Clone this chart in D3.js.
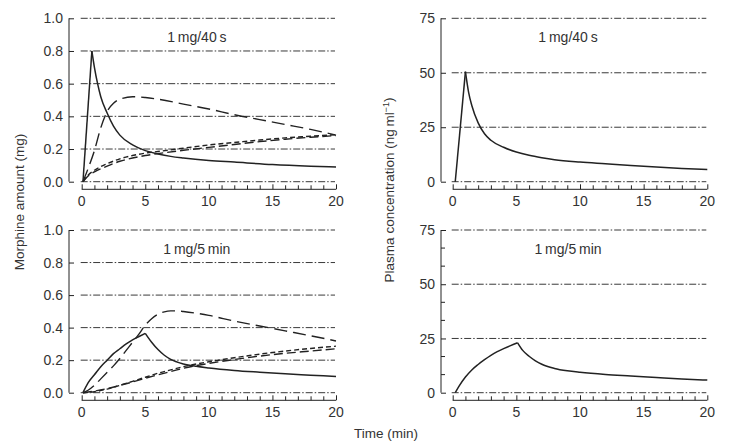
<!DOCTYPE html>
<html>
<head>
<meta charset="utf-8">
<script src="https://cdn.jsdelivr.net/npm/d3@7"></script>
<style>
  html, body { margin: 0; padding: 0; background: #fff; }
  svg { display: block; }
  text { font-family: "Liberation Sans", Arial, Helvetica, sans-serif; fill: #333; }
</style>
</head>
<body>
<svg id="chart" width="729" height="445"></svg>
<script>
// ---------- DATA ----------
const xTicks = [0, 5, 10, 15, 20];
const amountTicks = [0.0, 0.2, 0.4, 0.6, 0.8, 1.0];
const concTicks = [0, 25, 50, 75];
const panelLabels = ["1\u2009mg/40\u2009s", "1\u2009mg/5\u2009min"];

// 1 mg / 40 s  — morphine amounts (mg)
const fastSolid = [[0.1,0],[0.8,0.8],[1.0,0.7],[1.25,0.6],[1.5,0.52],[2,0.42],[2.5,0.34],[3,0.285],[4,0.225],[5,0.19],[6,0.17],[7,0.155],[8,0.145],[10,0.13],[12,0.12],[15,0.105],[18,0.095],[20,0.09]];
const fastLongDash = [[0.1,0],[0.5,0.08],[1,0.19],[1.5,0.33],[2,0.43],[2.5,0.48],[3,0.505],[4,0.52],[5,0.515],[6,0.505],[8,0.475],[10,0.445],[12,0.41],[14,0.38],[16,0.35],[18,0.32],[20,0.285]];
const fastDashA = [[0.1,0],[0.5,0.04],[1,0.07],[2,0.11],[3,0.14],[4,0.16],[5,0.175],[6,0.185],[8,0.205],[10,0.225],[12,0.24],[14,0.255],[16,0.268],[18,0.278],[20,0.288]];
const fastDashB = [[0.1,0],[0.5,0.035],[1,0.06],[2,0.095],[3,0.125],[4,0.145],[5,0.16],[6,0.172],[8,0.192],[10,0.21],[12,0.228],[14,0.245],[16,0.26],[18,0.272],[20,0.282]];

// 1 mg / 5 min — morphine amounts (mg)
const slowSolid = [[0.1,0],[0.5,0.06],[1,0.11],[1.5,0.16],[2,0.2],[2.5,0.24],[3,0.27],[3.5,0.3],[4,0.325],[4.5,0.345],[5,0.365],[5.5,0.31],[6,0.265],[6.5,0.23],[7,0.205],[8,0.177],[9,0.162],[10,0.152],[12,0.137],[14,0.126],[16,0.116],[18,0.108],[20,0.1]];
const slowLongDash = [[0.1,0],[0.5,0.015],[1,0.045],[1.5,0.085],[2,0.125],[2.5,0.165],[3,0.21],[3.5,0.26],[4,0.31],[4.5,0.36],[5,0.415],[5.5,0.455],[6,0.482],[6.5,0.497],[7,0.503],[7.5,0.503],[8,0.499],[10,0.475],[12,0.44],[14,0.41],[16,0.38],[18,0.35],[20,0.318]];
const slowDashA = [[0.1,0],[1,0.006],[2,0.022],[3,0.045],[4,0.07],[5,0.095],[6,0.12],[7,0.14],[8,0.16],[10,0.19],[12,0.215],[14,0.237],[16,0.256],[18,0.272],[20,0.286]];
const slowDashB = [[0.1,0],[1,0.01],[2,0.025],[3,0.045],[4,0.066],[5,0.089],[6,0.11],[7,0.13],[8,0.15],[10,0.18],[12,0.204],[14,0.225],[16,0.242],[18,0.256],[20,0.27]];

// plasma concentrations (ng/ml)
const fastPlasma = [[0.2,0],[1.0,50.5],[1.25,41],[1.5,35],[2,27],[2.5,22],[3,19],[4,15.8],[5,13.6],[6,12.1],[7,11],[8,10.1],[10,9],[12,8.2],[14,7.4],[16,6.7],[18,6.1],[20,5.6]];
const slowPlasma = [[0.2,0],[0.5,3],[1,7.2],[1.5,10.5],[2,13],[2.5,15.2],[3,17.2],[3.5,18.9],[4,20.3],[4.5,21.6],[5.1,23],[5.5,19.5],[6,16.8],[6.5,14.7],[7,13.1],[8,11.2],[9,10.1],[10,9.4],[12,8.4],[14,7.7],[16,7],[18,6.3],[20,5.8]];

// ---------- LAYOUT ----------
const svg = d3.select("#chart");
const INK = "#222";
const GRID_DASH = "7,2,1.5,2";
const styles = {
  solid: null,
  long: "13,6",
  medium: "9,4",
  short: "5,3"
};
const FS = 14;

function panel(opts) {
  const x = d3.scaleLinear().domain([0, 20]).range(opts.xRange);
  const y = d3.scaleLinear().domain(opts.yDomain).range(opts.yRange);
  const g = svg.append("g");
  const y0 = y(opts.yDomain[0]);
  const axisY = y0 + 7.6;

  // gridlines (dash-dot)
  g.selectAll("line.grid").data(opts.yTicks).enter().append("line")
    .attr("x1", x(0) - 1).attr("x2", x(20) - 1)
    .attr("y1", d => y(d)).attr("y2", d => y(d))
    .attr("stroke", INK).attr("stroke-width", 0.9)
    .attr("stroke-dasharray", GRID_DASH);

  // y axis
  const yAx = g.append("g").attr("transform", `translate(${opts.yAxisX},0)`)
    .call(d3.axisRight(y).tickValues(opts.yTicks).tickSize(5).tickFormat(""));
  yAx.select(".domain").attr("d", `M0,${y(opts.yDomain[1])}V${y0}`).attr("stroke", INK);
  yAx.selectAll(".tick line").attr("stroke", INK);
  if (opts.yMinor) {
    yAx.selectAll(null).data(opts.yMinor).enter().append("line")
      .attr("x1", 0).attr("x2", 4).attr("y1", d => y(d)).attr("y2", d => y(d))
      .attr("stroke", INK);
  }
  g.selectAll("text.ylab").data(opts.yTicks).enter().append("text")
    .attr("x", opts.yAxisX - 6).attr("y", d => y(d))
    .attr("dy", "0.36em").attr("text-anchor", "end")
    .attr("font-size", FS)
    .text(d => opts.yFormat(d));

  // x axis (ticks pointing up)
  const xAx = g.append("g").attr("transform", `translate(0,${axisY})`)
    .call(d3.axisTop(x).tickValues(d3.range(0, 21, 1)).tickSize(4).tickFormat(""));
  xAx.select(".domain").attr("d", `M${x(0)},0H${x(20)}`).attr("stroke", INK);
  xAx.selectAll(".tick line").attr("stroke", INK).attr("y2", d => xTicks.includes(d) ? -5 : -4);
  g.selectAll("text.xlab").data(xTicks).enter().append("text")
    .attr("x", d => x(d)).attr("y", axisY + 11.5).attr("dy", "0.36em")
    .attr("text-anchor", "middle").attr("font-size", FS)
    .text(d => d);

  // panel label
  g.append("text").attr("x", (x(0) + x(20)) / 2 - 12).attr("y", y(opts.yDomain[1]) + 19)
    .attr("dy", "0.36em").attr("text-anchor", "middle").attr("font-size", FS)
    .text(opts.label);

  // curves
  const line = d3.line().x(d => x(d[0])).y(d => y(d[1])).curve(d3.curveMonotoneX);
  opts.series.forEach(s => {
    let parts = [s.data];
    if (s.sharp) {
      const i = d3.maxIndex(s.data, d => d[1]);
      parts = [s.data.slice(0, i + 1), s.data.slice(i)];
    }
    parts.forEach(p => {
      g.append("path").attr("d", line(p))
        .attr("fill", "none").attr("stroke", INK)
        .attr("stroke-width", s.style === "solid" ? 1.5 : 1.4)
        .attr("stroke-dasharray", styles[s.style]);
    });
  });
}

const fmtAmount = d3.format(".1f");
const fmtConc = d3.format("d");
const leftX = [81.7, 336], rightX = [452.7, 707.3];
const topY = [181.7, 18.3], botY = [392.7, 230];

panel({ xRange: leftX, yRange: topY, yDomain: [0, 1], yTicks: amountTicks, yAxisX: 69, yFormat: fmtAmount,
  label: panelLabels[0],
  series: [
    { data: fastSolid, style: "solid", sharp: true },
    { data: fastLongDash, style: "long" },
    { data: fastDashA, style: "short" },
    { data: fastDashB, style: "medium" }
  ]});
panel({ xRange: leftX, yRange: botY, yDomain: [0, 1], yTicks: amountTicks, yAxisX: 69, yFormat: fmtAmount,
  label: panelLabels[1],
  series: [
    { data: slowSolid, style: "solid", sharp: true },
    { data: slowLongDash, style: "long" },
    { data: slowDashA, style: "short" },
    { data: slowDashB, style: "medium" }
  ]});
panel({ xRange: rightX, yRange: topY, yDomain: [0, 75], yTicks: concTicks, yAxisX: 441, yFormat: fmtConc,
  label: panelLabels[0],
  series: [{ data: fastPlasma, style: "solid", sharp: true }]});
panel({ xRange: rightX, yRange: botY, yDomain: [0, 75], yTicks: concTicks, yAxisX: 441, yFormat: fmtConc,
  yMinor: d3.range(1, 9).map(i => i * 25 / 3).filter(v => v % 25 !== 0),
  label: panelLabels[1],
  series: [{ data: slowPlasma, style: "solid", sharp: true }]});

// axis titles
svg.append("text").attr("transform", "translate(19,202) rotate(-90)")
  .attr("text-anchor", "middle").attr("dy", "0.36em").attr("font-size", 13.5)
  .text("Morphine amount (mg)");
const pt = svg.append("text").attr("transform", "translate(389,190) rotate(-90)")
  .attr("text-anchor", "middle").attr("dy", "0.36em").attr("font-size", 13.5);
pt.append("tspan").text("Plasma concentration (ng\u2009ml");
pt.append("tspan").attr("font-size", 9).attr("dy", "-0.5em").text("\u22121");
pt.append("tspan").attr("dy", "0.3em").text(")");
svg.append("text").attr("x", 386).attr("y", 433).attr("dy", "0.36em")
  .attr("text-anchor", "middle").attr("font-size", 13.5).text("Time (min)");
</script>
</body>
</html>
